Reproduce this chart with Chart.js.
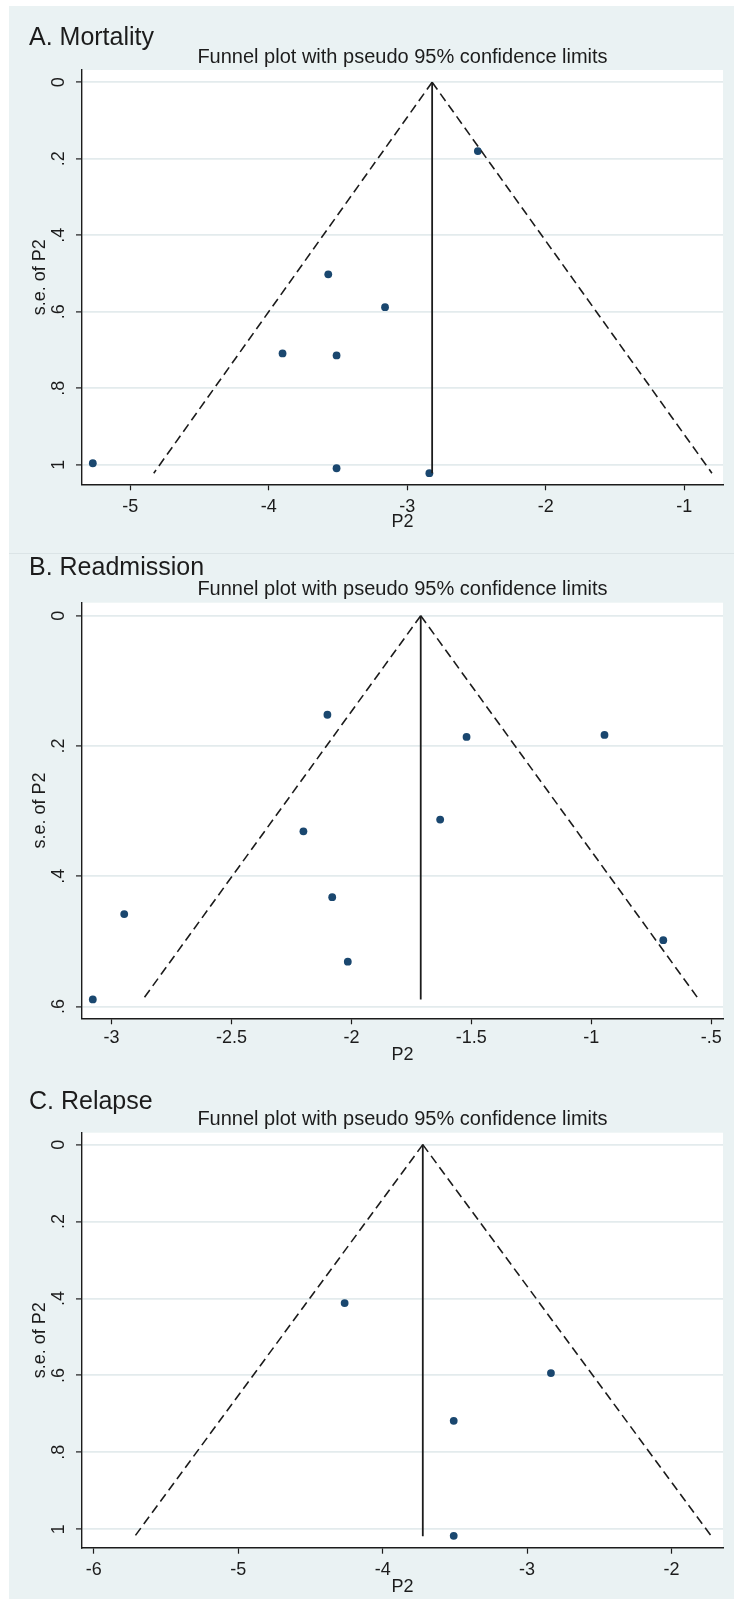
<!DOCTYPE html>
<html>
<head>
<meta charset="utf-8">
<script src="https://cdn.jsdelivr.net/npm/chart.js@4.4.1/dist/chart.umd.min.js"></script>
<style>
  html, body { margin: 0; padding: 0; background: #fff; }
  body { width: 734px; height: 1599px; position: relative; overflow: hidden; }
  #bg { position: absolute; left: 9px; top: 6px; right: 0; bottom: 0; background: #eaf2f3; }
  #divider { position: absolute; left: 9px; right: 0; top: 553px; height: 1px; background: #dbe4e6; }
  canvas { position: absolute; left: 0; }
</style>
</head>
<body>
<div id="bg"></div>
<div id="divider"></div>
<canvas id="chart-a" width="734" height="552" style="top:0"></canvas>
<canvas id="chart-b" width="734" height="517" style="top:553px"></canvas>
<canvas id="chart-c" width="734" height="529" style="top:1070px"></canvas>
<script>
const FONT = '"Liberation Sans", Arial, Helvetica, sans-serif';
const INK = '#1c1c1c';
const MARKER = '#1a476f';
const SUBTITLE = 'Funnel plot with pseudo 95% confidence limits';

// s.e. axis ticks
const seTicksLong = [0, 0.2, 0.4, 0.6, 0.8, 1];
const seLabelsLong = ['0', '.2', '.4', '.6', '.8', '1'];
const seTicksShort = [0, 0.2, 0.4, 0.6];
const seLabelsShort = ['0', '.2', '.4', '.6'];

// A. Mortality
const mortalityP2 = [-2.49, -3.57, -3.16, -3.90, -3.51, -5.27, -3.51, -2.84];
const mortalitySE = [0.18, 0.502, 0.588, 0.709, 0.714, 0.996, 1.009, 1.022];
const mortalityPooled = -2.82;
const mortalityLimits = [-4.83, -0.80]; // pseudo 95% limits at largest s.e.
const mortalitySeMax = 1.022;
const mortalityTicks = [-5, -4, -3, -2, -1];
const mortalityTickLabels = ['-5', '-4', '-3', '-2', '-1'];

// B. Readmission
const readmissionP2 = [-2.10, -1.52, -0.945, -1.63, -2.20, -2.08, -2.947, -0.70, -2.015, -3.078];
const readmissionSE = [0.152, 0.186, 0.183, 0.313, 0.331, 0.432, 0.458, 0.498, 0.531, 0.589];
const readmissionPooled = -1.711;
const readmissionLimits = [-2.869, -0.552];
const readmissionSeMax = 0.589;
const readmissionTicks = [-3, -2.5, -2, -1.5, -1, -0.5];
const readmissionTickLabels = ['-3', '-2.5', '-2', '-1.5', '-1', '-.5'];

// C. Relapse
const relapseP2 = [-4.263, -2.835, -3.508, -3.508];
const relapseSE = [0.412, 0.594, 0.718, 1.017];
const relapsePooled = -3.722;
const relapseLimits = [-5.715, -1.725];
const relapseSeMax = 1.018;
const relapseTicks = [-6, -5, -4, -3, -2];
const relapseTickLabels = ['-6', '-5', '-4', '-3', '-2'];

const plotBackground = {
  id: 'plotBackground',
  beforeDraw(chart) {
    const { ctx, chartArea: a } = chart;
    ctx.save();
    ctx.fillStyle = '#fff';
    ctx.fillRect(a.left, a.top, a.right - a.left, a.bottom - a.top);
    ctx.restore();
  }
};

const panelText = {
  id: 'panelText',
  afterDraw(chart, args, o) {
    const { ctx, chartArea } = chart;
    ctx.save();
    ctx.fillStyle = INK;
    ctx.textBaseline = 'alphabetic';
    ctx.textAlign = 'left';
    ctx.font = '25px ' + FONT;
    ctx.fillText(o.label, 29, o.labelBaseline);
    ctx.textAlign = 'center';
    ctx.font = '20px ' + FONT;
    ctx.fillText(SUBTITLE, (chartArea.left + chartArea.right) / 2, o.subBaseline);
    ctx.restore();
  }
};

function funnelChart(id, p) {
  const canvas = document.getElementById(id);
  const h = canvas.height;
  const top = p.canvasTop;
  const areaTop = p.areaTop - top;
  const areaBottom = p.areaBottom - top;
  const tickLen = 6;
  const size = 18;
  const lh = size * 1.2;
  const axisLeft = 82;

  const line = (data, dash, width) => ({
    data, showLine: true, pointRadius: 0, borderColor: INK,
    borderWidth: width, borderDash: dash, tension: 0, fill: false
  });

  new Chart(canvas, {
    type: 'scatter',
    data: {
      datasets: [
        line([{ x: p.pooled, y: 0 }, { x: p.limits[0], y: p.seMax }], [9, 5], 1.6),
        line([{ x: p.pooled, y: 0 }, { x: p.limits[1], y: p.seMax }], [9, 5], 1.6),
        line([{ x: p.pooled, y: 0 }, { x: p.pooled, y: p.seMax }], [], 1.8),
        {
          data: p.x.map((x, i) => ({ x, y: p.se[i] })),
          pointRadius: 3.9, pointBorderWidth: 0,
          pointBackgroundColor: MARKER, backgroundColor: MARKER
        }
      ]
    },
    options: {
      responsive: false,
      animation: false,
      devicePixelRatio: 1,
      layout: { padding: { left: 0, right: 734 - 723, top: areaTop, bottom: 0 } },
      plugins: {
        legend: { display: false },
        tooltip: { enabled: false },
        panelText: { label: p.label, labelBaseline: p.labelBaseline - top, subBaseline: p.subBaseline - top }
      },
      scales: {
        x: {
          type: 'linear',
          position: 'bottom',
          min: p.xRange[0],
          max: p.xRange[1],
          afterBuildTicks: s => { s.ticks = p.xTicks.map(v => ({ value: v })); },
          afterFit: s => { s.height = h - areaBottom; },
          grid: { drawOnChartArea: false, drawTicks: true, tickLength: tickLen, tickColor: INK, tickWidth: 1.2 },
          border: { display: true, color: INK, width: 1.4 },
          ticks: {
            autoSkip: false, maxRotation: 0, color: INK,
            font: { family: FONT, size },
            padding: p.xLabelY - top - areaBottom - tickLen - lh / 2,
            callback: (v, i) => p.xTickLabels[i]
          },
          title: {
            display: true, text: 'P2', color: INK,
            font: { family: FONT, size },
            padding: { top: 0, bottom: h - (p.xTitleY - top) - lh / 2 }
          }
        },
        y: {
          type: 'linear',
          position: 'left',
          reverse: true,
          min: p.yRange[0],
          max: p.yRange[1],
          afterBuildTicks: s => { s.ticks = p.yTicks.map(v => ({ value: v })); },
          afterFit: s => { s.width = axisLeft; },
          grid: { color: '#e3ebed', lineWidth: 1.8, drawTicks: true, tickLength: tickLen, tickColor: INK, tickWidth: 1.2 },
          border: { display: true, color: INK, width: 1.4 },
          ticks: {
            autoSkip: false, minRotation: 90, maxRotation: 90, crossAlign: 'center',
            color: INK, font: { family: FONT, size },
            padding: 9,
            callback: (v, i) => p.yTickLabels[i]
          },
          title: {
            display: true, text: 's.e. of P2', color: INK,
            font: { family: FONT, size },
            padding: { top: 40 - lh / 2, bottom: 0 }
          }
        }
      }
    },
    plugins: [plotBackground, panelText]
  });
}

funnelChart('chart-a', {
  label: 'A. Mortality',
  x: mortalityP2, se: mortalitySE,
  pooled: mortalityPooled, limits: mortalityLimits, seMax: mortalitySeMax,
  xTicks: mortalityTicks, xTickLabels: mortalityTickLabels,
  yTicks: seTicksLong, yTickLabels: seLabelsLong,
  xRange: [-5.348, -0.72], yRange: [-0.032, 1.051],
  canvasTop: 0, areaTop: 70, areaBottom: 484.3,
  xLabelY: 506.7, xTitleY: 522, labelBaseline: 45, subBaseline: 63
});

funnelChart('chart-b', {
  label: 'B. Readmission',
  x: readmissionP2, se: readmissionSE,
  pooled: readmissionPooled, limits: readmissionLimits, seMax: readmissionSeMax,
  xTicks: readmissionTicks, xTickLabels: readmissionTickLabels,
  yTicks: seTicksShort, yTickLabels: seLabelsShort,
  xRange: [-3.123, -0.451], yRange: [-0.020, 0.618],
  canvasTop: 553, areaTop: 602.7, areaBottom: 1018.3,
  xLabelY: 1038, xTitleY: 1055, labelBaseline: 575, subBaseline: 595
});

funnelChart('chart-c', {
  label: 'C. Relapse',
  x: relapseP2, se: relapseSE,
  pooled: relapsePooled, limits: relapseLimits, seMax: relapseSeMax,
  xTicks: relapseTicks, xTickLabels: relapseTickLabels,
  yTicks: seTicksLong, yTickLabels: seLabelsLong,
  xRange: [-6.081, -1.644], yRange: [-0.031, 1.048],
  canvasTop: 1070, areaTop: 1132.7, areaBottom: 1547.7,
  xLabelY: 1570, xTitleY: 1587, labelBaseline: 1108.5, subBaseline: 1125
});
</script>
</body>
</html>
